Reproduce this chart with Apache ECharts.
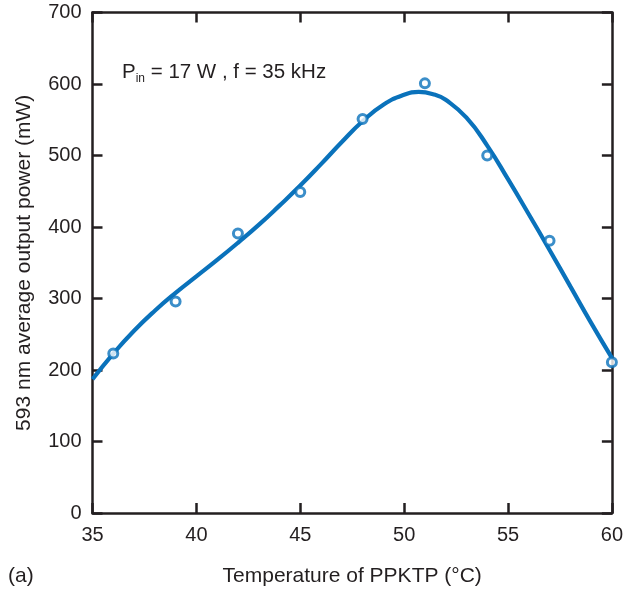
<!DOCTYPE html>
<html><head><meta charset="utf-8">
<script src="https://cdn.jsdelivr.net/npm/echarts@6/dist/echarts.min.js"></script>
<style>html,body{margin:0;padding:0;background:#fff}#c{width:626px;height:592px}</style>
</head><body><div id="c"></div>
<script>
// measured data points
const tempPoints = [36, 39, 42, 45, 48, 51, 54, 57, 60];
const powerPoints = [223, 296, 391, 449, 551, 601, 500, 381, 211];
// fitted curve
const curveX = [35, 36, 37, 38, 39, 40, 41, 42, 43, 44, 45, 46, 47, 48, 49, 50, 50.7, 51.5, 52, 53, 54, 55, 56, 57, 58, 59, 60];
const curveY = [187, 223, 255, 283, 308, 331, 354, 378, 403, 430, 458, 488, 519, 548, 571, 585, 589, 585, 578, 553, 514, 467, 418, 368, 317, 266, 217];
const xTicks = [35, 40, 45, 50, 55, 60];
const yTicks = [0, 100, 200, 300, 400, 500, 600, 700];

const blue = '#0a72bb';
const ink = '#231f20';
const font = 'Liberation Sans, Arial, Helvetica, sans-serif';
const chart = echarts.init(document.getElementById('c'));
const axisCommon = {
  axisLine: {show: true, onZero: false, lineStyle: {color: ink, width: 2.5}},
  axisTick: {show: true, inside: true, length: 10, lineStyle: {color: ink, width: 2.5}},
  splitLine: {show: false}
};
chart.setOption({
  animation: false,
  grid: {left: 92.5, right: 10.5, top: 12.6, bottom: 77.7},
  xAxis: [
    Object.assign({}, axisCommon, {type: 'value', position: 'bottom', min: xTicks[0], max: xTicks[xTicks.length-1], interval: 5,
      axisLabel: {show: true, color: ink, fontSize: 20, fontFamily: font, margin: 12},
      name: 'Temperature of PPKTP (°C)', nameLocation: 'middle', nameGap: 53,
      nameTextStyle: {color: ink, fontSize: 21, fontFamily: font}}),
    Object.assign({}, axisCommon, {type: 'value', position: 'top', min: xTicks[0], max: xTicks[xTicks.length-1], interval: 5,
      axisLabel: {show: false}})
  ],
  yAxis: [
    Object.assign({}, axisCommon, {type: 'value', position: 'left', min: yTicks[0], max: yTicks[yTicks.length-1], interval: 100,
      axisLabel: {show: true, color: ink, fontSize: 20, fontFamily: font, margin: 11},
      name: '593 nm average output power (mW)', nameLocation: 'middle', nameGap: 58,
      nameTextStyle: {color: ink, fontSize: 21, fontFamily: font}}),
    Object.assign({}, axisCommon, {type: 'value', position: 'right', min: yTicks[0], max: yTicks[yTicks.length-1], interval: 100,
      axisLabel: {show: false}})
  ],
  series: [
    {type: 'line', data: curveX.map((x, i) => [x, curveY[i]]), smooth: 0.5, smoothConstraint: false, showSymbol: false,
     lineStyle: {color: blue, width: 4.2}, z: 2},
    {type: 'scatter', data: tempPoints.map((x, i) => [x, powerPoints[i]]), symbol: 'circle', symbolSize: 9,
     itemStyle: {color: '#fff', borderColor: blue, borderWidth: 3}, z: 3}
  ],
  graphic: [
    {type: 'text', left: 122, top: 62, style: {
      rich: {
        a: {fontSize: 20.5, fontFamily: font, fill: ink},
        s: {fontSize: 12, fontFamily: font, fill: ink, padding: [12, 0, 0, 0]}
      },
      text: '{a|P}{s|in}{a| = 17 W , f = 35 kHz}'}},
    {type: 'text', left: 8, top: 566, style: {text: '(a)', fontSize: 21, fontFamily: font, fill: ink}}
  ]
});
</script></body></html>
